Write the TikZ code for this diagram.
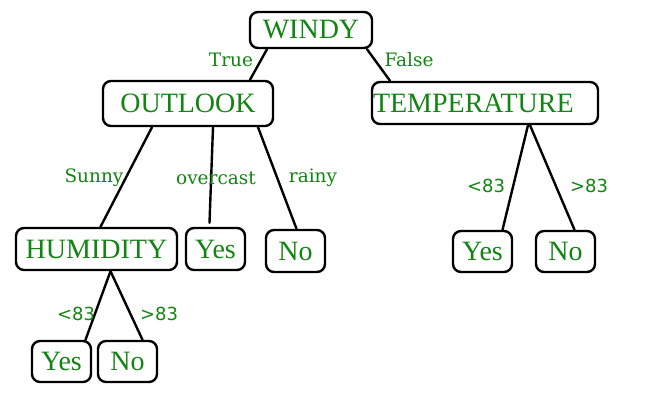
\documentclass[tikz,border=0pt]{standalone}
\usepackage{fontspec}
\setmainfont{Liberation Serif}
\newfontfamily\numfont{DejaVu Sans}
\newfontfamily\labfont{DejaVu Serif}
\definecolor{labgreen}{RGB}{18,132,18}

\tikzset{
  attrbox/.style={draw=black,line width=2.4pt,rounded corners=8pt,text=labgreen,
    font=\fontsize{28}{30}\selectfont,inner xsep=0pt,inner ysep=0pt,minimum height=40pt},
  leafbox/.style={attrbox,minimum width=59pt},
  branch/.style={line width=2.4pt,line cap=round},
  edgelab/.style={text=labgreen,font=\labfont\fontsize{18.5}{20}\selectfont,inner sep=0pt},
  numlab/.style={text=labgreen,font=\numfont\fontsize{18}{20}\selectfont,inner sep=0pt}
}

\begin{document}
\begin{tikzpicture}[line join=round,x=1pt,y=-1pt]
		\useasboundingbox (0,0) rectangle (650,400);
		% decision nodes
		\node[attrbox,minimum width=122pt,minimum height=36pt] (windy) at (311,30) {WINDY};
		\node[attrbox,minimum width=170pt,minimum height=45pt] (outlook) at (188,103.5) {OUTLOOK};
		\node[attrbox,minimum width=226pt,minimum height=42pt,text width=224pt,align=left] (temperature) at (485,103) {TEMPERATURE};
		\node[attrbox,minimum width=161pt,minimum height=42pt] (humidity) at (96.5,249) {HUMIDITY};
		% leaves
		\node[leafbox,minimum height=42pt] (yesA) at (215.5,249) {Yes};
		\node[leafbox,minimum height=42pt] (noA) at (295.5,251) {No};
		\node[leafbox,minimum height=41pt] (yesC) at (482.5,251.5) {Yes};
		\node[leafbox,minimum height=41pt] (noC) at (565.5,251.5) {No};
		\node[leafbox,minimum height=41pt] (yesB) at (61.5,361.5) {Yes};
		\node[leafbox,minimum height=41pt] (noB) at (127.5,361.5) {No};
		% branches
		\draw[branch] ([xshift=-44pt]windy.south) -- ([xshift=62pt]outlook.north);
		\draw[branch] ([xshift=56pt]windy.south) -- ([xshift=-95pt]temperature.north);
		\draw[branch] ([xshift=-36pt]outlook.south) -- ([xshift=4pt]humidity.north);
		\draw[branch] ([xshift=25pt]outlook.south) -- ([xshift=-6pt,yshift=4pt]yesA.north);
		\draw[branch] ([xshift=70pt]outlook.south) -- ([xshift=1pt]noA.north);
		\draw[branch] ([xshift=14pt]humidity.south) -- ([xshift=24pt]yesB.north);
		\draw[branch] ([xshift=14pt]humidity.south) -- ([xshift=15pt]noB.north);
		\draw[branch] ([xshift=43pt]temperature.south) -- ([xshift=20pt]yesC.north);
		\draw[branch] ([xshift=45pt]temperature.south) -- ([xshift=9pt]noC.north);
		% branch labels
		\node[edgelab] (ltrue) at (231,60) {True};
		\node[edgelab] (lfalse) at (409,60) {False};
		\node[edgelab] (lsunny) at (94,178) {Sunny};
		\node[edgelab] (lover) at (216,178) {overcast};
		\node[edgelab] (lrainy) at (313,178) {rainy};
		\node[numlab] (lhlow) at (76,314) {<83};
		\node[numlab] (lhhigh) at (159,314) {>83};
		\node[numlab] (ltlow) at (486,186) {<83};
		\node[numlab] (lthigh) at (589,186) {>83};
	\end{tikzpicture}
\end{document}
